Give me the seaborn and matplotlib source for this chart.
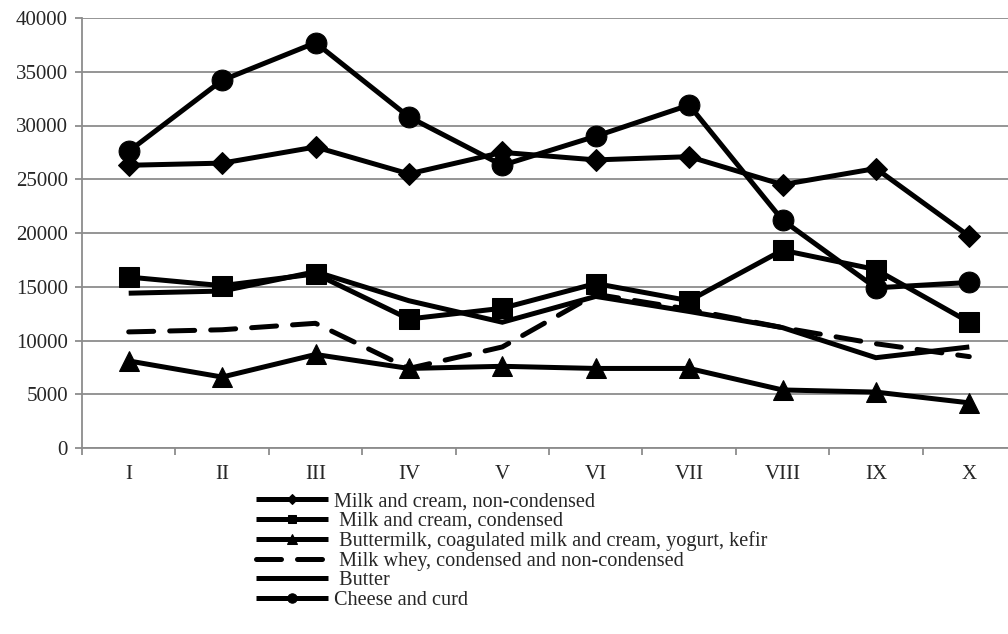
import matplotlib
matplotlib.use("Agg")
import matplotlib.pyplot as plt
import seaborn as sns
import pandas as pd

# Monthly figures by product group
months = ["I", "II", "III", "IV", "V", "VI", "VII", "VIII", "IX", "X"]

milk_non_condensed = [26300, 26500, 28000, 25500, 27500, 26800, 27100, 24500, 26000, 19700]
milk_condensed = [15900, 15100, 16200, 12000, 13000, 15300, 13700, 18400, 16600, 11700]
buttermilk = [8100, 6600, 8700, 7400, 7600, 7400, 7400, 5400, 5200, 4200]
whey = [10800, 11000, 11600, 7400, 9400, 14300, 12900, 11200, 9700, 8500]
butter = [14400, 14600, 16400, 13700, 11700, 14100, 12700, 11200, 8400, 9400]
cheese = [27600, 34200, 37700, 30800, 26300, 29000, 31900, 21200, 14900, 15400]

series_labels = [
    "Milk and cream, non-condensed",
    " Milk and cream, condensed",
    " Buttermilk, coagulated milk and cream, yogurt, kefir",
    " Milk whey, condensed and non-condensed",
    " Butter",
    "Cheese and curd",
]
series_values = [milk_non_condensed, milk_condensed, buttermilk, whey, butter, cheese]

styles = [
    dict(marker="D", markersize=11),
    dict(marker="s", markersize=14),
    dict(marker="^", markersize=15),
    dict(marker=None, dashes=(5, 3.2)),
    dict(marker=None),
    dict(marker="o", markersize=15),
]

sns.set_style("white")
plt.rcParams["font.family"] = ["Liberation Serif", "DejaVu Serif"]

fig = plt.figure(figsize=(10.08, 6.34), dpi=100)
ax = fig.add_axes([82 / 1008, 1 - 448 / 634, 934 / 1008, 430 / 634])

grid_color = "#8c8c8c"
lw = 3.6

for label, values, st in zip(series_labels, series_values, styles):
    df = pd.DataFrame({"month": months, "value": values})
    kw = dict(color="black", linewidth=lw, markeredgecolor="black",
              markerfacecolor="black", solid_joinstyle="miter",
              solid_capstyle="butt", dash_capstyle="round")
    if st.get("marker"):
        kw["marker"] = st["marker"]
        kw["markersize"] = st["markersize"]
    sns.lineplot(data=df, x="month", y="value", ax=ax, label=label,
                 sort=False, **kw)
    if "dashes" in st:
        ax.lines[-1].set_dashes(st["dashes"])

ax.set_xlim(-0.5, 9.5)
ax.set_ylim(0, 40000)
ax.set_yticks(range(0, 40001, 5000))
ax.set_xticks(range(len(months)))
ax.set_xticklabels(months)
ax.set_xticks([i - 0.5 for i in range(len(months) + 1)], minor=True)
ax.set_xlabel("")
ax.set_ylabel("")

ax.yaxis.grid(True, color=grid_color, linewidth=1.3)
ax.set_axisbelow(True)
for side in ("top", "right"):
    ax.spines[side].set_visible(False)
for side in ("left", "bottom"):
    ax.spines[side].set_color(grid_color)
    ax.spines[side].set_linewidth(1.3)

ax.tick_params(axis="y", which="major", left=True, length=5, width=1.3,
               color=grid_color, labelsize=15, pad=5)
ax.tick_params(axis="x", which="major", bottom=False, labelsize=15, pad=9)
ax.tick_params(axis="x", which="minor", bottom=True, length=5, width=1.3,
               color=grid_color)

handles, labels = ax.get_legend_handles_labels()
ax.get_legend().remove()
fig.legend(handles, labels, loc="upper left",
           bbox_to_anchor=(256 / 1008, 1 - 492 / 634),
           frameon=False, fontsize=14.6, handlelength=3.55, handletextpad=0.3,
           labelspacing=0.02, borderpad=0, borderaxespad=0, markerscale=0.45)

fig.savefig("out.png", dpi=100)
